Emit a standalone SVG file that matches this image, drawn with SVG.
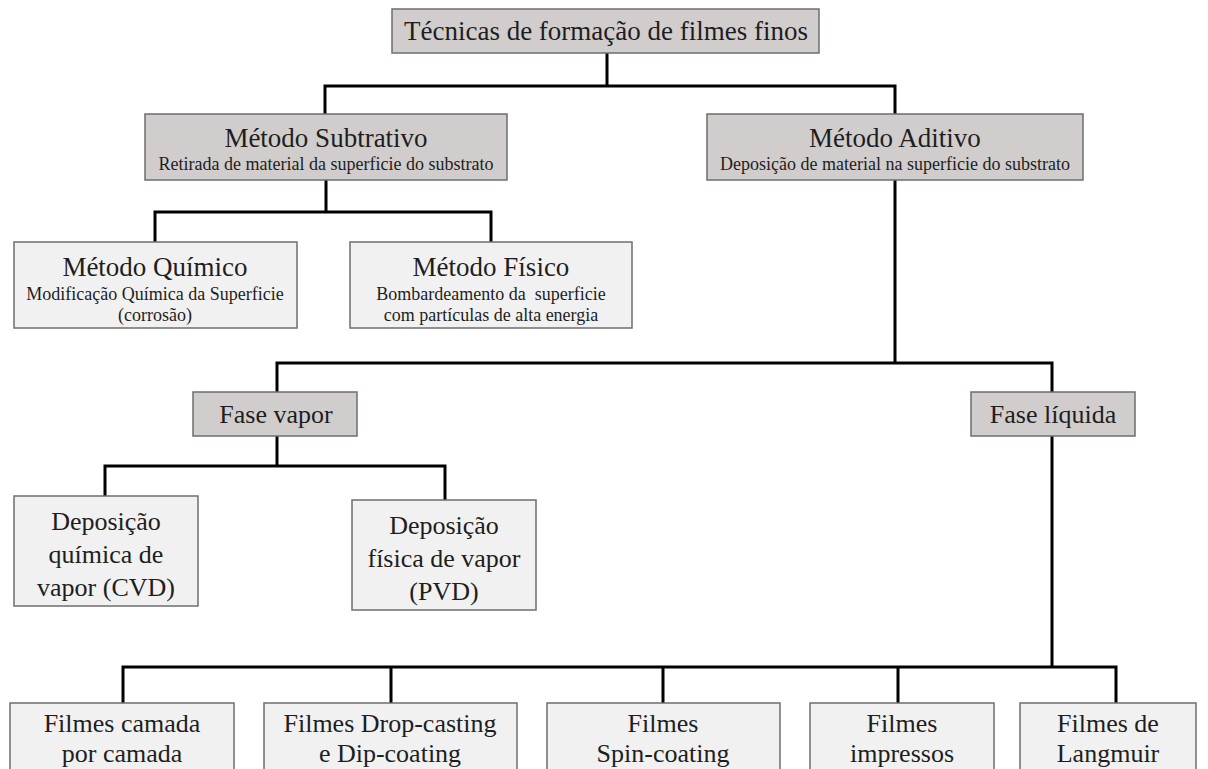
<svg xmlns="http://www.w3.org/2000/svg" width="1208" height="769" viewBox="0 0 1208 769">
<style>
.g{fill:#d1cdcd;stroke:#6e6e6e;stroke-width:1.5}
.l{fill:#f1f1f1;stroke:#6e6e6e;stroke-width:1.5}
text{fill:#1e1e1e;text-anchor:middle}
.t{font-size:27px}
.b{font-size:26px}
.s{font-size:18px}
.m{font-size:18px}
#connectors path{fill:none;stroke:#000;stroke-width:3}
</style>
<rect width="1208" height="769" fill="#fff"/>
<g id="connectors">
<path d="M607 53V86M325 114V86H895V114"/>
<path d="M326 180V212M155 242V212H491V242"/>
<path d="M895 180V363M277 392V363H1052V392"/>
<path d="M277 436V466M105 496V466H445V500"/>
<path d="M1052 436V667M123 703V667H1116V703M391 667V703M663 667V703M898 667V703"/>
</g>
<g font-family="Liberation Serif, Times New Roman, serif">
<g id="n-root"><rect class="g" x="392" y="9" width="427" height="44"/><text class="t" x="606" y="40">Técnicas de formação de filmes finos</text></g>
<g id="n-subtrativo"><rect class="g" x="145" y="114" width="362" height="66"/><text class="t" x="326" y="147">Método Subtrativo</text><text class="s" x="326" y="170">Retirada de material da superficie do substrato</text></g>
<g id="n-aditivo"><rect class="g" x="707" y="114" width="376" height="66"/><text class="t" x="895" y="147">Método Aditivo</text><text class="s" x="895" y="170">Deposição de material na superficie do substrato</text></g>
<g id="n-quimico"><rect class="l" x="14" y="242" width="283" height="86"/><text class="t" x="155" y="276">Método Químico</text><text class="m" x="155" y="300">Modificação Química da Superficie</text><text class="m" x="155" y="321">(corrosão)</text></g>
<g id="n-fisico"><rect class="l" x="350" y="242" width="282" height="86"/><text class="t" x="491" y="276">Método Físico</text><text class="m" x="491" y="300" xml:space="preserve">Bombardeamento da  superficie</text><text class="m" x="491" y="321">com partículas de alta energia</text></g>
<g id="n-vapor"><rect class="g" x="193" y="392" width="164" height="44"/><text class="b" x="276" y="423">Fase vapor</text></g>
<g id="n-liquida"><rect class="g" x="971" y="392" width="164" height="44"/><text class="b" x="1053" y="423">Fase líquida</text></g>
<g id="n-cvd"><rect class="l" x="14" y="496" width="184" height="110"/><text class="b" x="106" y="530">Deposição</text><text class="b" x="106" y="563">química de</text><text class="b" x="106" y="596">vapor (CVD)</text></g>
<g id="n-pvd"><rect class="l" x="352" y="500" width="184" height="110"/><text class="b" x="444" y="534">Deposição</text><text class="b" x="444" y="567">física de vapor</text><text class="b" x="444" y="600">(PVD)</text></g>
<g id="n-camada"><rect class="l" x="10" y="703" width="224" height="80"/><text class="b" x="122" y="732">Filmes camada</text><text class="b" x="122" y="762">por camada</text></g>
<g id="n-drop"><rect class="l" x="264" y="703" width="253" height="80"/><text class="b" x="390" y="732">Filmes Drop-casting</text><text class="b" x="390" y="762">e Dip-coating</text></g>
<g id="n-spin"><rect class="l" x="547" y="703" width="233" height="80"/><text class="b" x="663" y="732">Filmes</text><text class="b" x="663" y="762">Spin-coating</text></g>
<g id="n-impressos"><rect class="l" x="810" y="703" width="184" height="80"/><text class="b" x="902" y="732">Filmes</text><text class="b" x="902" y="762">impressos</text></g>
<g id="n-langmuir"><rect class="l" x="1020" y="703" width="176" height="80"/><text class="b" x="1108" y="732">Filmes de</text><text class="b" x="1108" y="762">Langmuir</text></g>
</g>
</svg>
